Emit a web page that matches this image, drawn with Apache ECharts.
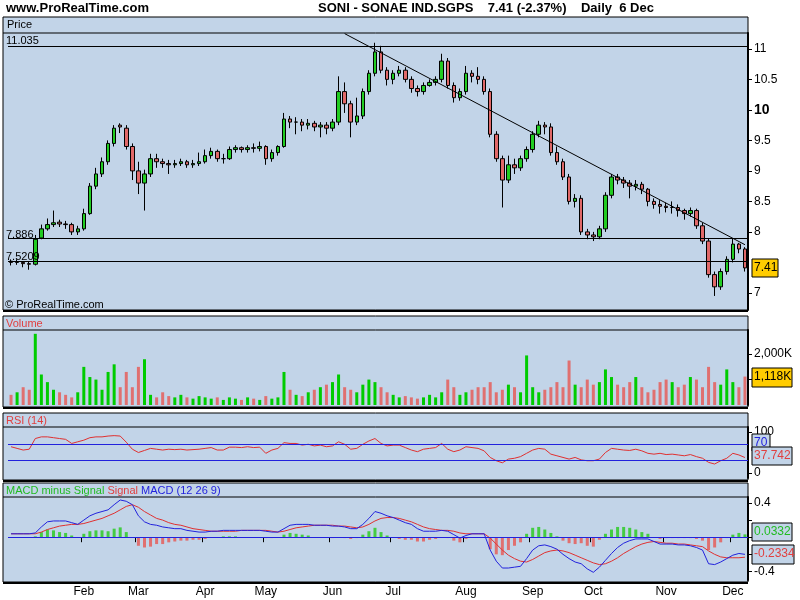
<!DOCTYPE html>
<html><head><meta charset="utf-8">
<script src="https://cdn.jsdelivr.net/npm/echarts@6/dist/echarts.min.js"></script>
<style>html,body{margin:0;padding:0;background:#fff}#c{width:800px;height:600px}</style>
</head><body><div id="c"></div>
<script>
// [open, close, low, high]
const candles = [
[7.52,7.50,7.45,7.55],[7.50,7.50,7.46,7.55],[7.50,7.48,7.42,7.52],[7.48,7.47,7.38,7.52],[7.47,7.88,7.45,7.95],
[7.90,8.05,7.88,8.12],[8.05,8.12,8.02,8.22],[8.12,8.15,8.08,8.35],[8.16,8.13,8.08,8.20],[8.13,8.12,8.05,8.18],
[8.12,8.00,7.95,8.15],[8.00,8.05,7.95,8.10],[8.05,8.30,8.02,8.38],[8.30,8.75,8.28,8.80],[8.75,8.95,8.70,9.05],
[8.95,9.15,8.90,9.22],[9.15,9.45,9.10,9.50],[9.45,9.70,9.40,9.75],[9.75,9.72,9.62,9.78],[9.70,9.40,9.35,9.75],
[9.40,9.00,8.85,9.45],[9.00,8.80,8.62,9.15],[8.80,8.95,8.35,9.02],[8.95,9.20,8.90,9.28],[9.20,9.15,9.05,9.28],
[9.15,9.12,9.05,9.20],[9.12,9.10,8.95,9.18],[9.10,9.12,9.05,9.18],[9.12,9.15,9.08,9.20],[9.15,9.10,9.05,9.18],
[9.10,9.12,9.05,9.18],[9.12,9.15,9.08,9.30],[9.15,9.25,9.12,9.35],[9.25,9.32,9.20,9.38],[9.32,9.20,9.15,9.35],
[9.20,9.20,9.12,9.28],[9.20,9.35,9.18,9.40],[9.35,9.38,9.30,9.42],[9.38,9.35,9.30,9.40],[9.35,9.38,9.30,9.42],
[9.38,9.37,9.30,9.45],[9.37,9.40,9.32,9.48],[9.40,9.20,9.10,9.42],[9.20,9.30,9.15,9.35],[9.30,9.40,9.25,9.42],
[9.40,9.85,9.38,9.95],[9.85,9.80,9.70,9.90],[9.80,9.80,9.60,9.88],[9.80,9.75,9.65,9.85],[9.75,9.78,9.68,9.85],
[9.78,9.72,9.65,9.82],[9.72,9.75,9.55,9.80],[9.75,9.70,9.60,9.80],[9.70,9.80,9.65,9.85],[9.80,10.30,9.75,10.55],
[10.30,10.10,9.95,10.45],[10.10,9.80,9.55,10.15],[9.80,9.90,9.75,10.20],[9.90,10.30,9.85,10.35],[10.30,10.60,10.25,10.65],
[10.60,10.95,10.55,11.10],[10.95,10.65,10.60,11.05],[10.65,10.50,10.40,10.70],[10.50,10.60,10.42,10.65],[10.60,10.65,10.55,10.72],
[10.65,10.50,10.45,10.70],[10.50,10.35,10.28,10.55],[10.35,10.30,10.22,10.40],[10.30,10.40,10.25,10.45],[10.40,10.45,10.38,10.50],
[10.45,10.50,10.40,10.55],[10.50,10.80,10.45,10.92],[10.80,10.40,10.35,10.85],[10.40,10.20,10.12,10.45],[10.20,10.30,10.15,10.35],
[10.30,10.60,10.25,10.72],[10.60,10.55,10.45,10.65],[10.55,10.50,10.42,10.70],[10.50,10.30,10.25,10.55],[10.30,9.60,9.55,10.35],
[9.60,9.20,9.15,9.65],[9.20,8.85,8.40,9.25],[8.85,9.10,8.80,9.25],[9.10,9.05,8.95,9.20],[9.05,9.20,9.00,9.25],
[9.20,9.35,9.15,9.40],[9.35,9.60,9.30,9.65],[9.60,9.75,9.55,9.82],[9.75,9.72,9.60,9.80],[9.72,9.30,9.25,9.78],
[9.30,9.15,9.10,9.40],[9.15,8.90,8.85,9.20],[8.90,8.50,8.45,8.95],[8.50,8.55,8.40,8.62],[8.55,8.00,7.95,8.60],
[8.00,7.95,7.88,8.05],[7.95,7.92,7.85,8.00],[7.92,8.05,7.88,8.10],[8.05,8.60,8.00,8.65],[8.60,8.90,8.55,8.95],
[8.90,8.85,8.78,8.95],[8.85,8.80,8.72,8.90],[8.80,8.75,8.55,8.85],[8.75,8.78,8.68,8.85],[8.78,8.70,8.62,8.82],
[8.70,8.50,8.42,8.72],[8.50,8.45,8.38,8.55],[8.45,8.42,8.30,8.52],[8.42,8.40,8.32,8.48],[8.40,8.40,8.30,8.50],
[8.40,8.35,8.25,8.45],[8.35,8.30,8.20,8.38],[8.30,8.35,8.25,8.40],[8.35,8.10,8.05,8.38],[8.10,7.85,7.80,8.15],
[7.85,7.30,7.25,7.90],[7.30,7.10,6.95,7.35],[7.10,7.35,7.05,7.40],[7.35,7.55,7.30,7.60],[7.55,7.80,7.50,7.90],
[7.80,7.72,7.65,7.82],[7.72,7.41,7.35,7.75]];
const volume = [400,500,700,600,2800,1200,900,600,500,400,300,500,1500,1100,1000,600,1300,1600,700,1300,
700,1500,1800,400,300,500,350,300,400,300,250,350,300,250,300,200,300,250,200,300,
250,200,350,250,300,1300,600,400,350,500,600,700,800,900,1200,700,600,500,800,1000,
900,700,500,400,300,350,300,250,300,400,300,500,1000,700,400,500,600,700,700,900,
500,600,800,700,500,1950,700,500,600,700,900,700,1750,800,700,1000,800,900,1400,1100,
800,700,900,1100,700,500,600,900,1000,900,700,800,1100,1000,700,1500,900,800,1400,900,700,1118];
const rsi = [64,60,56,58,84,88,88,86,84,82,72,76,80,86,88,88,90,91,90,75,
58,50,55,60,58,56,58,57,58,56,57,58,60,62,56,56,63,63,62,64,
62,63,48,56,60,74,72,72,68,70,66,68,64,66,76,70,58,60,70,78,
84,72,66,68,68,62,56,52,58,60,62,72,58,52,56,64,62,60,54,38,
30,25,34,36,40,48,56,60,58,46,42,38,34,38,32,30,30,34,50,60,
58,56,55,58,54,48,46,48,45,46,44,42,45,40,36,26,22,30,36,48,44,37.742];
const macd = [.04,.04,.04,.04,.05,.12,.18,.19,.19,.19,.17,.15,.2,.25,.28,.3,.32,.38,.435,.42,
.38,.25,.18,.15,.14,.12,.11,.1,.1,.08,.07,.06,.06,.07,.07,.08,.08,.08,.08,.08,
.08,.08,.07,.06,.06,.1,.14,.15,.15,.15,.14,.14,.14,.13,.13,.12,.1,.1,.15,.22,
.3,.28,.25,.23,.2,.17,.15,.1,.07,.07,.07,.08,.07,.03,-.01,.02,.04,.04,.04,-.15,
-.28,-.36,-.36,-.35,-.34,-.25,-.15,-.1,-.09,-.11,-.14,-.2,-.25,-.29,-.31,-.37,-.41,-.35,-.27,-.19,
-.12,-.07,-.04,-.02,-.02,-.02,-.05,-.08,-.08,-.08,-.09,-.09,-.1,-.12,-.15,-.31,-.32,-.29,-.25,-.21,-.19,-.2002];
const signal = [.04,.04,.04,.04,.04,.06,.09,.11,.13,.14,.15,.15,.16,.18,.2,.22,.25,.28,.32,.36,
.38,.35,.3,.26,.22,.2,.17,.15,.14,.12,.1,.09,.08,.07,.07,.07,.07,.07,.08,.08,
.08,.08,.08,.07,.06,.07,.09,.11,.12,.13,.14,.14,.14,.14,.13,.13,.12,.11,.12,.15,
.19,.22,.23,.23,.22,.2,.18,.15,.12,.1,.09,.08,.08,.07,.05,.04,.04,.04,.04,-.01,
-.08,-.15,-.21,-.25,-.28,-.29,-.26,-.22,-.18,-.16,-.15,-.16,-.18,-.21,-.24,-.27,-.3,-.32,-.31,-.28,
-.24,-.19,-.15,-.11,-.08,-.06,-.05,-.06,-.07,-.07,-.08,-.08,-.09,-.1,-.11,-.16,-.2,-.23,-.24,-.24,-.24,-.2334];
const monthTicks = {12:'Feb',21:'Mar',32:'Apr',42:'May',53:'Jun',63:'Jul',75:'Aug',86:'Sep',96:'Oct',108:'Nov',119:'Dec'};
const priceTicks = [7,8,8.5,9,9.5,10,10.5,11];
const refLevels = [11.035, 7.886, 7.5209];

const cats = candles.map((_, i) => String(i));
const hist = macd.map((m, i) => +(m - signal[i]).toFixed(4));
const UP = '#22cc22', DN = '#e06868', BG = '#c2d4e8';
const FONT = 'Liberation Sans';

const chart = echarts.init(document.getElementById('c'));
const panels = [[17,293,16],[316,91,14],[413,67,14],[483,99,14]];
const graphics = [];
panels.forEach(([t,h,hh]) => {
  graphics.push({type:'rect', z:-10, shape:{x:3,y:t,width:745,height:h}, style:{fill:BG, stroke:'#000', lineWidth:1}});
  graphics.push({type:'line', z:-9, shape:{x1:3,y1:t+hh,x2:748,y2:t+hh}, style:{stroke:'#000', lineWidth:1}});
  graphics.push({type:'line', z:-9, shape:{x1:3,y1:t+h+1,x2:748,y2:t+h+1}, style:{stroke:'#000', lineWidth:2}});
});
const txt = (x,y,s,fill,size,weight) => ({type:'text', z:50, x, y, style:{text:s, fill:fill||'#000', font:(weight||'normal')+' '+(size||11)+'px '+FONT}});
graphics.push(txt(6,2,'www.ProRealTime.com','#000',13,'bold'));
graphics.push(txt(318,2,'SONI - SONAE IND.SGPS    7.41 (-2.37%)    Daily  6 Dec','#000',13,'bold'));
graphics.push(txt(7,19,'Price'));
graphics.push(txt(6,35,'11.035'));
graphics.push(txt(6,229,'7.886'));
graphics.push(txt(6,251,'7.5209'));
graphics.push(txt(5,299,'© ProRealTime.com'));
graphics.push(txt(6,318,'Volume','#e04040'));
graphics.push(txt(6,415,'RSI (14)','#e04040'));
graphics.push({type:'text', z:50, x:6, y:485, style:{rich:{g:{fill:'#22bb22'},r:{fill:'#e04040'},b:{fill:'#2222dd'}}, text:'{g|MACD minus Signal} {r|Signal} {b|MACD (12 26 9)}', font:'11px '+FONT}});
const box = (x,y,w,h,s,fill,col) => {
  graphics.push({type:'rect', z:49, shape:{x,y,width:w,height:h}, style:{fill, stroke:'#000'}});
  graphics.push(txt(x+2,y+3,s,col,12));
};
box(752,259,26,18,'7.41','#ffcc00','#000');
box(752,368,40,19,'1,118K','#ffcc00','#000');
box(752,434,18,17,'70',BG,'#2222dd');
box(752,447,40,18,'37.742',BG,'#e04040');
box(752,523,40,18,'0.0332',BG,'#22bb22');
box(752,545,42,19,'-0.2334',BG,'#e04040');

const grids = [
  {left:8,right:52,top:33,height:277},
  {left:8,right:52,top:330,height:75},
  {left:8,right:52,top:427,height:51},
  {left:8,right:52,top:497,height:83}
];
const xAxes = grids.map((g,i) => ({
  type:'category', gridIndex:i, data:cats, boundaryGap:true,
  axisLine:{show:false}, splitLine:{show:false},
  axisTick:{show:i===3, interval:(idx)=>idx in monthTicks, length:5, lineStyle:{color:'#000'}},
  axisLabel:{show:i===3, interval:(idx)=>idx in monthTicks, formatter:(v)=>monthTicks[v]||'', color:'#000', fontSize:12, fontFamily:FONT, margin:6}
}));
const yBase = (i, min, max, labels, ticks, fmt) => ({
  type:'value', gridIndex:i, position:'right', min, max, scale:true,
  splitLine:{show:false}, axisLine:{show:true, lineStyle:{color:'#000', width:2}},
  axisTick:{show:true, length:4, customValues:ticks, lineStyle:{color:'#000'}},
  axisLabel:{customValues:labels, color:'#000', fontSize:12, fontFamily:FONT, margin:6, formatter:fmt,
    rich:{b:{fontWeight:'bold', fontSize:14, fontFamily:FONT}}}
});
const yAxes = [
  yBase(0,6.72,11.26,priceTicks,priceTicks,(v)=> v===10 ? '{b|10}' : String(v)),
  yBase(1,0,2950,[2000],[1000,2000],(v)=> v===2000?'2,000K':''),
  yBase(2,-12,112,[0,100],[0,100],(v)=>String(v)),
  yBase(3,-0.5,0.47,[-0.4,0.4],[-0.4,-0.2,0,0.2,0.4],(v)=>String(v))
];
const lineMark = (arr, color) => ({symbol:'none', silent:true, label:{show:false}, lineStyle:{color, width:1, type:'solid'}, data:arr.map(v=>({yAxis:v}))});

chart.setOption({
  animation:false,
  graphic:graphics,
  grid:grids, xAxis:xAxes, yAxis:yAxes,
  series:[
    {type:'candlestick', xAxisIndex:0, yAxisIndex:0, barWidth:4,
     data:candles.map(r=>[r[0],r[1],r[2],r[3]]),
     itemStyle:{color:UP,color0:DN,borderColor:'#000',borderColor0:'#000',borderWidth:1},
     markLine:{symbol:'none', silent:true, label:{show:false}, lineStyle:{color:'#000',width:1,type:'solid'},
       data:[...refLevels.map(v=>({yAxis:v})), [{coord:['55',11.25]},{coord:['121',7.79]}]]}},
    {type:'bar', xAxisIndex:1, yAxisIndex:1, barWidth:3,
     data:volume.map((v,i)=>({value:v, itemStyle:{color: candles[i][1]>=candles[i][0] ? '#00cc00' : '#e07070'}}))},
    {type:'line', xAxisIndex:2, yAxisIndex:2, data:rsi, symbol:'none', lineStyle:{color:'#e03030',width:1},
     markLine:lineMark([70,30],'#2222dd')},
    {type:'bar', xAxisIndex:3, yAxisIndex:3, barWidth:3,
     data:hist.map(v=>({value:v, itemStyle:{color: v>=0 ? '#44cc44' : '#e07070'}})),
     markLine:lineMark([0],'#2222dd')},
    {type:'line', xAxisIndex:3, yAxisIndex:3, data:signal, symbol:'none', lineStyle:{color:'#e03030',width:1}},
    {type:'line', xAxisIndex:3, yAxisIndex:3, data:macd, symbol:'none', lineStyle:{color:'#2222dd',width:1}}
  ]
});
</script></body></html>
